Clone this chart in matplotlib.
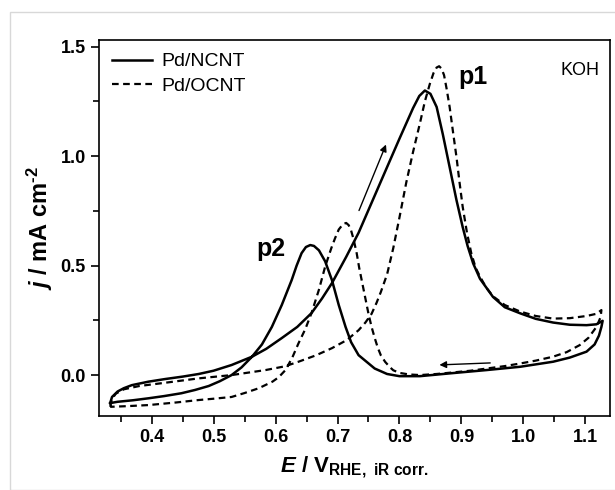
import matplotlib
matplotlib.use("Agg")
from matplotlib import pyplot as plt
from matplotlib.patches import Rectangle
from matplotlib.ticker import MultipleLocator

plt.rcParams['font.family'] = ['Liberation Sans', 'DejaVu Sans']
plt.rcParams['mathtext.fontset'] = 'custom'
plt.rcParams['mathtext.rm'] = 'Liberation Sans:bold'
plt.rcParams['mathtext.it'] = 'Liberation Sans:bold:italic'
plt.rcParams['mathtext.bf'] = 'Liberation Sans:bold'

# Pd/NCNT, anodic (forward) scan then cathodic (backward) scan
ncnt_fwd_E = [0.333, 0.336, 0.345, 0.355, 0.368, 0.395, 0.422, 0.45, 0.476, 0.50,
              0.529, 0.562, 0.585, 0.61, 0.635, 0.658, 0.675, 0.691, 0.714, 0.734,
              0.757, 0.78, 0.80, 0.822, 0.832, 0.841, 0.85, 0.86, 0.87, 0.881,
              0.892, 0.902, 0.91, 0.919, 0.93, 0.951, 0.97, 0.995, 1.02, 1.048,
              1.075, 1.102, 1.118, 1.128]
ncnt_fwd_j = [-0.128, -0.1, -0.075, -0.06, -0.046, -0.03, -0.018, -0.007, 0.005, 0.02,
              0.046, 0.084, 0.12, 0.169, 0.22, 0.283, 0.35, 0.42, 0.54, 0.65,
              0.80, 0.95, 1.08, 1.22, 1.275, 1.30, 1.285, 1.225, 1.10, 0.95,
              0.80, 0.677, 0.59, 0.51, 0.44, 0.357, 0.31, 0.282, 0.257, 0.24,
              0.23, 0.228, 0.232, 0.248]
ncnt_bwd_E = [1.128, 1.126, 1.122, 1.115, 1.102, 1.075, 1.048, 0.995, 0.941, 0.886,
              0.833, 0.80, 0.78, 0.76, 0.734, 0.722, 0.713, 0.702, 0.691, 0.68,
              0.67, 0.662, 0.656, 0.649, 0.642, 0.634, 0.626, 0.61, 0.594, 0.578,
              0.562, 0.545, 0.529, 0.51, 0.492, 0.47, 0.448, 0.42, 0.395, 0.37,
              0.345, 0.333]
ncnt_bwd_j = [0.248, 0.22, 0.18, 0.14, 0.107, 0.08, 0.061, 0.038, 0.023, 0.009,
              -0.005, -0.005, 0.005, 0.03, 0.091, 0.15, 0.22, 0.32, 0.434, 0.52,
              0.57, 0.59, 0.594, 0.585, 0.557, 0.5, 0.434, 0.32, 0.22, 0.14,
              0.084, 0.035, 0.0, -0.028, -0.05, -0.068, -0.083, -0.096, -0.106, -0.115,
              -0.122, -0.128]

# Pd/OCNT
ocnt_fwd_E = [0.333, 0.336, 0.342, 0.355, 0.38, 0.422, 0.476, 0.529, 0.584, 0.615,
              0.637, 0.665, 0.691, 0.715, 0.734, 0.745, 0.755, 0.763, 0.77, 0.78,
              0.79, 0.80, 0.811, 0.822, 0.833, 0.841, 0.849, 0.855, 0.86, 0.864,
              0.868, 0.872, 0.876, 0.881, 0.886, 0.892, 0.897, 0.902, 0.909, 0.916,
              0.923, 0.93, 0.94, 0.951, 0.97, 0.995, 1.02, 1.048, 1.075, 1.102,
              1.118, 1.126]
ocnt_fwd_j = [-0.145, -0.11, -0.085, -0.065, -0.05, -0.035, -0.015, 0.0, 0.023, 0.04,
              0.061, 0.09, 0.123, 0.16, 0.205, 0.24, 0.28, 0.33, 0.38, 0.46,
              0.58, 0.72, 0.88, 1.02, 1.15, 1.25, 1.33, 1.38, 1.405, 1.411,
              1.40, 1.37, 1.31, 1.225, 1.12, 0.997, 0.88, 0.77, 0.65, 0.556,
              0.49, 0.45, 0.40, 0.36, 0.32, 0.29, 0.27, 0.258, 0.26, 0.27,
              0.28, 0.297]
ocnt_bwd_E = [1.126, 1.125, 1.124, 1.118, 1.105, 1.091, 1.07, 1.048, 1.02, 0.995,
              0.97, 0.941, 0.915, 0.886, 0.86, 0.833, 0.815, 0.80, 0.79, 0.785,
              0.777, 0.77, 0.765, 0.76, 0.755, 0.75, 0.745, 0.74, 0.735, 0.731,
              0.726, 0.722, 0.718, 0.714, 0.709, 0.702, 0.696, 0.69, 0.68, 0.67,
              0.658, 0.648, 0.637, 0.627, 0.616, 0.605, 0.595, 0.573, 0.55, 0.529,
              0.50, 0.476, 0.44, 0.395, 0.36, 0.333]
ocnt_bwd_j = [0.297, 0.27, 0.26, 0.22, 0.17, 0.137, 0.105, 0.084, 0.066, 0.053,
              0.041, 0.03, 0.02, 0.012, 0.005, 0.0, 0.003, 0.01, 0.022, 0.035,
              0.06, 0.09, 0.125, 0.17, 0.22, 0.28, 0.35, 0.42, 0.49, 0.556,
              0.62, 0.66, 0.685, 0.695, 0.69, 0.665, 0.625, 0.58, 0.495, 0.39,
              0.283, 0.21, 0.145, 0.08, 0.023, -0.01, -0.03, -0.06, -0.082, -0.1,
              -0.108, -0.114, -0.125, -0.137, -0.142, -0.145]

fig = plt.figure(figsize=(6.15, 4.9), dpi=100)
fig.patches.append(Rectangle((10 / 615, 0), 1, (490 - 12) / 490, transform=fig.transFigure,
                             fill=False, edgecolor='#d8d8d8', linewidth=1.0))
ax = fig.add_axes([0.161, 0.151, 0.831, 0.767])

ax.plot(ncnt_fwd_E + ncnt_bwd_E, ncnt_fwd_j + ncnt_bwd_j, c='black', linewidth=1.8,
        label='Pd/NCNT')
ax.plot(ocnt_fwd_E + ocnt_bwd_E, ocnt_fwd_j + ocnt_bwd_j, c='black', linewidth=1.6,
        linestyle=(0, (3, 2)), label='Pd/OCNT')

ax.annotate('', xy=(0.78, 1.065), xytext=(0.733, 0.74),
            arrowprops=dict(arrowstyle='-|>', color='black', lw=1.0, mutation_scale=10))
ax.annotate('', xy=(0.86, 0.046), xytext=(0.951, 0.056),
            arrowprops=dict(arrowstyle='-|>', color='black', lw=1.0, mutation_scale=10))

ax.text(0.918, 1.36, 'p1', fontsize=18, fontweight='bold', ha='center', va='center')
ax.text(0.593, 0.575, 'p2', fontsize=18, fontweight='bold', ha='center', va='center')
ax.text(0.98, 0.92, 'KOH', fontsize=13, ha='right', va='center', transform=ax.transAxes)

ax.legend(loc='upper left', frameon=False, fontsize=14, handlelength=2.1,
          handletextpad=0.45, borderaxespad=0.25, labelspacing=0.35)

ax.set_xlim(0.315, 1.14)
ax.set_ylim(-0.187, 1.53)
ax.xaxis.set_major_locator(MultipleLocator(0.1))
ax.xaxis.set_minor_locator(MultipleLocator(0.05))
ax.yaxis.set_major_locator(MultipleLocator(0.5))
ax.yaxis.set_minor_locator(MultipleLocator(0.25))
ax.tick_params(axis='both', which='major', direction='out', length=6, width=1.2,
               labelsize=13)
ax.tick_params(axis='both', which='minor', direction='out', length=4, width=1.2)
for lab in ax.get_xticklabels() + ax.get_yticklabels():
    lab.set_fontweight('bold')
for sp in ax.spines.values():
    sp.set_linewidth(1.2)

ax.set_xlabel(r'$E$ / V$_{\rm RHE,\ iR\ corr.}$', fontsize=16, fontweight='bold', labelpad=6)
ax.set_ylabel(r'$j$ / mA cm$^{\text{-}2}$', fontsize=17, fontweight='bold', labelpad=4)

fig.savefig('out.png', dpi=100)
